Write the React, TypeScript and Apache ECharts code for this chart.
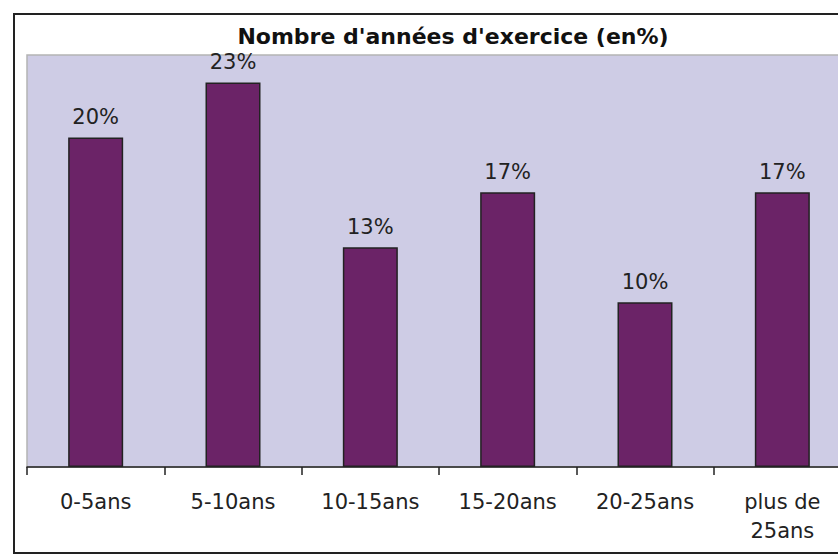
import React, { useEffect, useRef } from "react";
import * as echarts from "echarts";

const titleText = "Nombre d'années d'exercice (en%)";
const categories = ["0-5ans", "5-10ans", "10-15ans", "15-20ans", "20-25ans", "plus de\n25ans"];
const values = [20, 23.33, 13.33, 16.67, 10, 16.67];

export default function App() {
  const ref = useRef<HTMLDivElement>(null);
  useEffect(() => {
    if (!ref.current) return;
    const chart = echarts.init(ref.current, null, { renderer: "svg" });
    const font = "'DejaVu Sans', 'Liberation Sans', Arial, sans-serif";
    chart.setOption({
      animation: false,
      backgroundColor: "#ffffff",
      title: {
        text: titleText,
        left: 448,
        top: 20,
        textAlign: "center",
        textStyle: { fontFamily: font, fontSize: 22, fontWeight: "bold", color: "#111" },
      },
      graphic: [
        {
          type: "rect",
          shape: { x: 14, y: 14, width: 868, height: 539 },
          style: { fill: "none", stroke: "#222", lineWidth: 2 },
          z: 100,
        },
      ],
      grid: {
        left: 27,
        top: 55,
        width: 824,
        height: 412,
        containLabel: false,
        outerBoundsMode: "none",
        show: true,
        backgroundColor: "#CECCE5",
        borderColor: "#b4b4b4",
        borderWidth: 1.5,
      },
      xAxis: {
        type: "category",
        data: categories,
        axisLine: { lineStyle: { color: "#222", width: 1.5 } },
        axisTick: { show: true, length: 8, lineStyle: { color: "#222", width: 1.5 } },
        axisLabel: {
          interval: 0,
          margin: 20,
          fontFamily: font,
          fontSize: 21,
          lineHeight: 29,
          color: "#222",
        },
      },
      yAxis: {
        type: "value",
        min: 0,
        max: 25,
        show: false,
        splitLine: { show: false },
      },
      series: [
        {
          type: "bar",
          data: values,
          barWidth: 55,
          itemStyle: { color: "#6B2367", borderColor: "#222", borderWidth: 1.5 },
          label: {
            show: true,
            position: "top",
            distance: 10,
            fontFamily: font,
            fontSize: 21,
            color: "#222",
            formatter: (p: any) => Math.round(p.value) + "%",
          },
        },
      ],
    });
    return () => chart.dispose();
  }, []);
  return <div ref={ref} style={{ position: "fixed", left: 0, top: 0, width: 838, height: 560 }} />;
}
